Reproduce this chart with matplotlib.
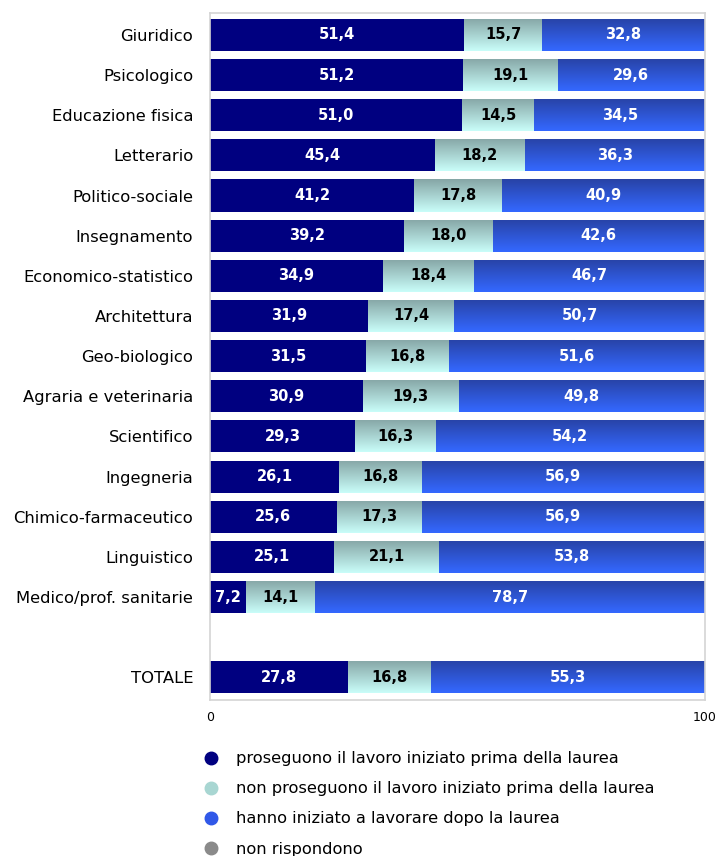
import numpy as np
import matplotlib
matplotlib.use("Agg")
import matplotlib.pyplot as plt
from matplotlib.lines import Line2D
from matplotlib.colors import LinearSegmentedColormap

# dati
categorie = ["Giuridico", "Psicologico", "Educazione fisica", "Letterario",
             "Politico-sociale", "Insegnamento", "Economico-statistico",
             "Architettura", "Geo-biologico", "Agraria e veterinaria",
             "Scientifico", "Ingegneria", "Chimico-farmaceutico",
             "Linguistico", "Medico/prof. sanitarie", "", "TOTALE"]
proseguono = [51.4, 51.2, 51.0, 45.4, 41.2, 39.2, 34.9, 31.9, 31.5, 30.9,
              29.3, 26.1, 25.6, 25.1, 7.2, 0, 27.8]
non_proseguono = [15.7, 19.1, 14.5, 18.2, 17.8, 18.0, 18.4, 17.4, 16.8, 19.3,
                  16.3, 16.8, 17.3, 21.1, 14.1, 0, 16.8]
dopo_laurea = [32.8, 29.6, 34.5, 36.3, 40.9, 42.6, 46.7, 50.7, 51.6, 49.8,
               54.2, 56.9, 56.9, 53.8, 78.7, 0, 55.3]
non_rispondono = [0.1, 0.1, 0.0, 0.1, 0.1, 0.2, 0.0, 0.0, 0.1, 0.0,
                  0.2, 0.2, 0.2, 0.0, 0.0, 0, 0.1]
etichette_x = ["0", "100"]
legenda = ["proseguono il lavoro iniziato prima della laurea",
           "non proseguono il lavoro iniziato prima della laurea",
           "hanno iniziato a lavorare dopo la laurea",
           "non rispondono"]

plt.rcParams['font.family'] = ['DejaVu Sans']

fig = plt.figure(figsize=(7.18, 8.56), dpi=100)
ax = fig.add_axes([0.2925, 0.182, 0.6895, 0.803])

n = len(categorie)
pos = np.arange(n)[::-1]
h = 0.8

navy = "#000080"
cyan_cmap = LinearSegmentedColormap.from_list("c", ["#86a6a6", "#c9fdf9"])
blue_cmap = LinearSegmentedColormap.from_list("b", ["#2843a6", "#3468ff"])
grigio = "#8a8a8a"

def sfuma(bars, cmap):
    grad = np.linspace(0, 1, 64).reshape(-1, 1)
    for r in bars:
        if r.get_width() <= 0:
            continue
        x, y = r.get_x(), r.get_y()
        im = ax.imshow(grad, cmap=cmap, aspect='auto', origin='upper',
                       extent=(x, x + r.get_width(), y, y + r.get_height()),
                       zorder=2)
        im.set_clip_path(r)

left = np.zeros(n)
b1 = ax.barh(pos, proseguono, height=h, left=left, color=navy, zorder=2)
left += proseguono
b2 = ax.barh(pos, non_proseguono, height=h, left=left, color="none", zorder=2)
sfuma(b2, cyan_cmap)
left += non_proseguono
b3 = ax.barh(pos, dopo_laurea, height=h, left=left, color="none", zorder=2)
sfuma(b3, blue_cmap)
left += dopo_laurea
b4 = ax.barh(pos, non_rispondono, height=h, left=left, color=grigio, zorder=2)

def etichette(bars, vals, col):
    for r, v in zip(bars, vals):
        if v <= 0:
            continue
        ax.text(r.get_x() + r.get_width() / 2, r.get_y() + r.get_height() / 2,
                f"{v:.1f}".replace(".", ","), ha='center', va='center',
                color=col, fontsize=10.5, fontweight='bold', zorder=3)

etichette(b1, proseguono, "white")
etichette(b2, non_proseguono, "black")
etichette(b3, dopo_laurea, "white")

ax.set_xlim(0, 100)
ax.set_ylim(-0.57, n - 1 + 0.55)
ax.set_yticks(pos)
ax.set_yticklabels(categorie, fontsize=11.8)
ax.set_xticks([0, 100])
ax.set_xticklabels(etichette_x, fontsize=9)
ax.tick_params(length=0)
ax.tick_params(axis='y', pad=12)
ax.tick_params(axis='x', pad=8)
for s in ax.spines.values():
    s.set_color("#d4d4d4")
    s.set_linewidth(1.2)

colori_leg = [navy, "#a8d6d2", "#3058e8", grigio]
handles = [Line2D([0], [0], marker='o', linestyle='', markersize=9,
                  markerfacecolor=c, markeredgecolor=c) for c in colori_leg]
fig.legend(handles, legenda, loc='upper left', bbox_to_anchor=(0.274, 0.130),
           frameon=False, fontsize=11.7, handletextpad=1.0, labelspacing=0.93,
           handlelength=1.0, borderaxespad=0)

fig.savefig("out.png", dpi=100)
